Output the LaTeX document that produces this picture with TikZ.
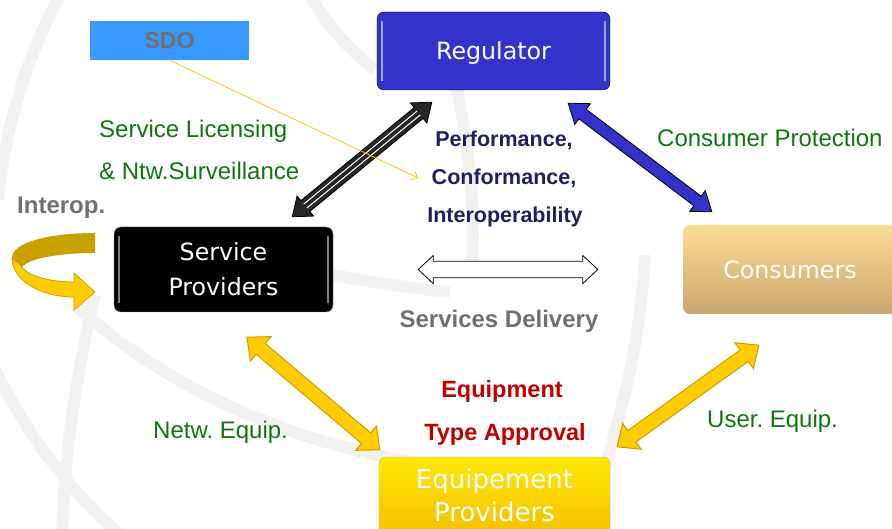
\documentclass[tikz,border=0pt]{standalone}
\usepackage{fontspec}
\setmainfont{Liberation Sans}
\newfontfamily\boxfont{DejaVu Sans}
\usetikzlibrary{calc,arrows.meta}
\frenchspacing

\definecolor{regblue}{RGB}{51,51,204}
\definecolor{sdoblue}{RGB}{58,153,255}
\definecolor{txtgreen}{RGB}{16,118,16}
\definecolor{txtnavy}{RGB}{31,31,102}
\definecolor{txtred}{RGB}{192,0,0}
\definecolor{txtgray}{RGB}{112,112,112}
\definecolor{arryellow}{RGB}{255,204,0}
\definecolor{arredge}{RGB}{200,160,0}
\definecolor{globegray}{RGB}{243,241,239}
\definecolor{contop}{RGB}{252,220,148}
\definecolor{conbot}{RGB}{200,166,112}
\definecolor{eqptop}{RGB}{255,232,0}
\definecolor{eqpbot}{RGB}{245,192,0}

\tikzset{
  fat shaft/.store in=\fatshaft, fat head/.store in=\fathead, fat len/.store in=\fatlen,
  fat shaft=7pt, fat head=14pt, fat len=18pt
}

% fat double arrow between two coordinates
\newcommand{\fatarrow}[3][]{%
  \draw[#1] (#2)
    -- ($(#2)!\fatlen!(#3)!\fathead!90:(#3)$)
    -- ($(#2)!\fatlen!(#3)!\fatshaft!90:(#3)$)
    -- ($(#3)!\fatlen!(#2)!\fatshaft!-90:(#2)$)
    -- ($(#3)!\fatlen!(#2)!\fathead!-90:(#2)$)
    -- (#3)
    -- ($(#3)!\fatlen!(#2)!\fathead!90:(#2)$)
    -- ($(#3)!\fatlen!(#2)!\fatshaft!90:(#2)$)
    -- ($(#2)!\fatlen!(#3)!\fatshaft!-90:(#3)$)
    -- ($(#2)!\fatlen!(#3)!\fathead!-90:(#3)$)
    -- cycle;}

\begin{document}
\begin{tikzpicture}[x=1pt, y=-1pt,
    actor/.style={rounded corners=7pt, align=center, text=white,
      font=\boxfont\fontsize{23.7}{35}\selectfont},
    greentxt/.style={text=txtgreen, font=\fontsize{24}{28}\selectfont, inner sep=0pt},
    navytxt/.style={text=txtnavy, font=\bfseries\fontsize{21.5}{26}\selectfont, inner sep=0pt},
    redtxt/.style={text=txtred, font=\bfseries\fontsize{23.5}{28}\selectfont, inner sep=0pt},
    graytxt/.style={text=txtgray, font=\bfseries\fontsize{24}{28}\selectfont, inner sep=0pt},
    yellowarrow/.style={fill=arryellow, draw=arredge, line width=1pt, fat shaft=7pt, fat head=16pt, fat len=18pt}]
  \useasboundingbox (0,0) rectangle (892,529);

  % faint globe in the background
  \begin{scope}[globegray, line width=12]
    \draw (60,-5) .. controls (25,60) and (5,130) .. (-2,200);
    \draw (75,305) .. controls (180,400) and (320,455) .. (470,470);
    \draw (-5,370) .. controls (30,440) and (70,490) .. (120,535);
    \draw (95,295) .. controls (75,380) and (65,450) .. (62,535);
    \draw (645,255) .. controls (640,350) and (620,420) .. (585,535);
    \draw (455,80) .. controls (470,150) and (475,210) .. (472,265);
    \draw (310,-5) .. controls (330,30) and (350,50) .. (375,70);
    \draw (333,275) .. controls (370,282) and (410,288) .. (450,292);
  \end{scope}

  % boxes
  \node[fill=sdoblue, minimum width=159pt, minimum height=39pt, text depth=0pt,
    text=txtgray, font=\bfseries\fontsize{23}{28}\selectfont] (sdo) at (169.5,40.5) {SDO};
  \node[actor, fill=regblue, draw=black, minimum width=233pt, minimum height=78pt,
    text depth=0pt] (reg) at (493.5,51) {Regulator};
  \node[actor, fill=black, draw=gray, minimum width=219pt, minimum height=85pt]
    (sp) at (223.5,269.5) {Service\\Providers};
  \node[actor, top color=contop, bottom color=conbot, minimum width=214pt, minimum height=89pt]
    (con) at (790,269.5) {Consumers};
  \node[actor, top color=eqptop, bottom color=eqpbot, draw=arredge!80, minimum width=231pt,
    minimum height=77pt, font=\boxfont\fontsize{26}{33}\selectfont]
    (eqp) at (494.5,495.5) {Equipement\\Providers};

  % glossy edges
  \draw[white!55!regblue, line width=2pt] ($(reg.north west)+(5,9)$) -- ($(reg.south west)+(5,-9)$);
  \draw[white!55!regblue, line width=2pt] ($(reg.north east)+(-5,9)$) -- ($(reg.south east)+(-5,-9)$);
  \draw[gray, line width=1.5pt] ($(sp.north west)+(5,9)$) -- ($(sp.south west)+(5,-9)$);
  \draw[gray, line width=1.5pt] ($(sp.north east)+(-5,9)$) -- ($(sp.south east)+(-5,-9)$);

  % arrow ends
  \coordinate (bl1) at ($(sp.north east)+(-41,-10)$);
  \coordinate (bl2) at ($(reg.south west)+(55,12)$);
  \coordinate (bu1) at ($(reg.south east)+(-42,13)$);
  \coordinate (bu2) at ($(con.north west)+(29,-13)$);
  \coordinate (wh1) at ($(sp.east)+(85,0)$);
  \coordinate (wh2) at ($(con.west)+(-85,0)$);
  \coordinate (yl1) at ($(sp.south)+(23.5,25)$);
  \coordinate (yl2) at ($(eqp.north west)+(1,-7)$);
  \coordinate (yr1) at ($(con.south west)+(76,31)$);
  \coordinate (yr2) at ($(eqp.north east)+(7,-10)$);
  \coordinate (sdotip) at (418,178);

  \fatarrow[fill=black!85, draw=black, line width=0.8pt, fat shaft=7pt, fat head=13pt, fat len=17pt]{bl1}{bl2}
  \draw[white, line width=1pt] ($(bl1)!17pt!(bl2)!2.5pt!90:(bl2)$) -- ($(bl2)!17pt!(bl1)!2.5pt!-90:(bl1)$);
  \draw[white, line width=1pt] ($(bl1)!17pt!(bl2)!2.5pt!-90:(bl2)$) -- ($(bl2)!17pt!(bl1)!2.5pt!90:(bl1)$);
  \fatarrow[fill=regblue, draw=black, line width=0.8pt, fat shaft=6pt, fat head=13pt, fat len=18pt]{bu1}{bu2}
  \fatarrow[fill=white, draw=black, line width=0.8pt, fat shaft=8.3pt, fat head=14pt, fat len=15pt]{wh1}{wh2}
  \fatarrow[yellowarrow]{yl1}{yl2}
  \fatarrow[yellowarrow]{yr1}{yr2}

  \draw[arryellow!90!orange, line width=0.8pt, -{Straight Barb[length=5pt,width=9pt]}] (sdo.south) -- (sdotip);

  % interop loop
  \fill[arredge] (95,233) .. controls (50,233) and (12,242) .. (12,258)
    -- (22,267) .. controls (30,258) and (60,253) .. (95,253) -- cycle;
  \filldraw[fill=arryellow, draw=arredge, line width=0.8pt] (12,258) .. controls (12,280) and (40,297) .. (74,297)
    -- (74,310) -- (95,292) -- (74,273) -- (74,282)
    .. controls (50,282) and (28,276) .. (22,267) -- cycle;

  % labels
  \node[greentxt, anchor=base west] (lic1) at (99,138) {Service Licensing};
  \node[greentxt, anchor=base west] (lic2) at (99,180) {\& Ntw.Surveillance};
  \node[graytxt, anchor=base west] (iop) at (17,214) {Interop.};
  \node[navytxt, anchor=base] (perf) at (504,147) {Performance,};
  \node[navytxt, anchor=base] (conf) at (504,185) {Conformance,};
  \node[navytxt, anchor=base] (inter) at (505,222.5) {Interoperability};
  \node[greentxt, anchor=base west] (prot) at (657,146.5) {Consumer Protection};
  \node[graytxt, anchor=base] (deliv) at (499,328) {Services Delivery};
  \node[redtxt, anchor=base] (equ) at (502,397.5) {Equipment};
  \node[redtxt, anchor=base] (type) at (505,440) {Type Approval};
  \node[greentxt, anchor=base west] (netw) at (153,438) {Netw. Equip.};
  \node[greentxt, anchor=base west] (user) at (707,427.5) {User. Equip.};
\end{tikzpicture}
\end{document}
